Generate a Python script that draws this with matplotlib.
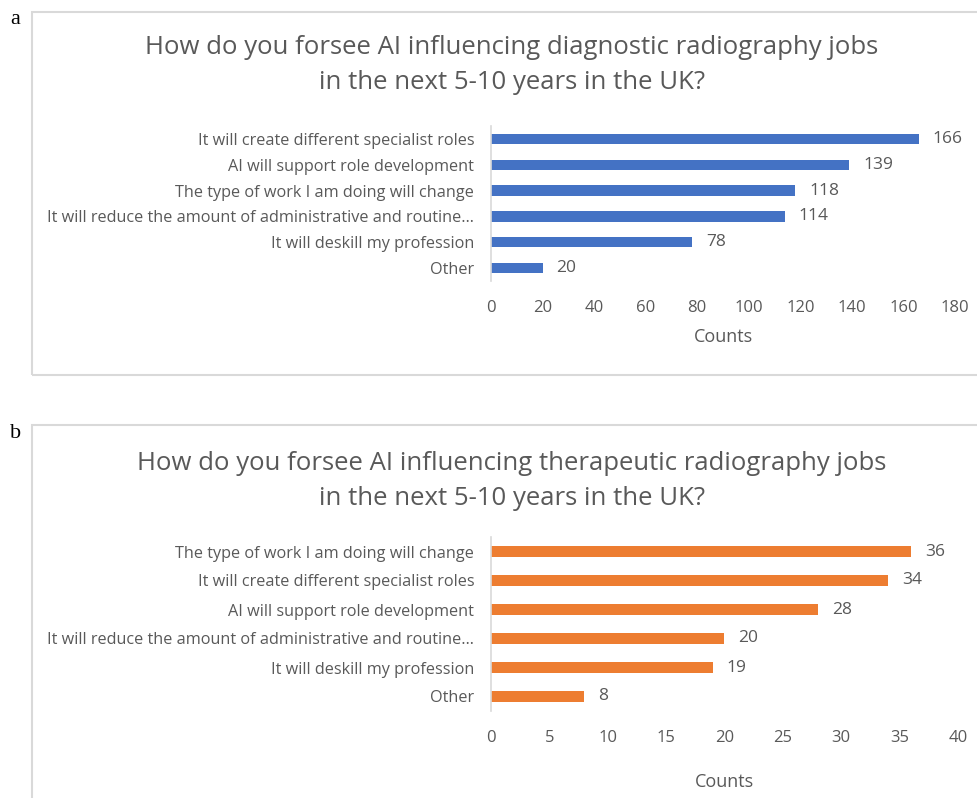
import numpy as np
import matplotlib.pyplot as plt
from matplotlib.patches import Rectangle

W, H = 978, 798

# panel a data (top to bottom)
labels_a = ["It will create different specialist roles",
            "AI will support role development",
            "The type of work I am doing will change",
            "It will reduce the amount of administrative and routine\u2026",
            "It will deskill my profession",
            "Other"]
counts_a = [166, 139, 118, 114, 78, 20]

# panel b data (top to bottom)
labels_b = ["The type of work I am doing will change",
            "It will create different specialist roles",
            "AI will support role development",
            "It will reduce the amount of administrative and routine\u2026",
            "It will deskill my profession",
            "Other"]
counts_b = [36, 34, 28, 20, 19, 8]

title_a = "How do you forsee AI influencing diagnostic radiography jobs\nin the next 5-10 years in the UK?"
title_b = "How do you forsee AI influencing therapeutic radiography jobs\nin the next 5-10 years in the UK?"

TXT = "#595959"
plt.rcParams['font.family'] = ['Open Sans', 'DejaVu Sans']

fig = plt.figure(figsize=(W / 100, H / 100), dpi=100)


def px(x0, y0, x1, y1):
    return [x0 / W, 1 - y1 / H, (x1 - x0) / W, (y1 - y0) / H]


# panel frames
for (x0, y0, x1, y1) in [(32, 12, 990, 375), (32, 425, 990, 810)]:
    fig.patches.append(Rectangle((x0 / W, 1 - y1 / H), (x1 - x0) / W, (y1 - y0) / H,
                                 transform=fig.transFigure, fill=False,
                                 edgecolor="#D9D9D9", linewidth=1.5))

fig.text(10 / W, 1 - 20 / H, "a", family="Liberation Serif", fontsize=16, va="center")
fig.text(10 / W, 1 - 433 / H, "b", family="Liberation Serif", fontsize=16, va="center")


def panel(rect, labels, counts, color, xmax, step, title, title_y, counts_y, barh):
    ax = fig.add_axes(px(*rect))
    y = np.arange(len(labels))
    ax.barh(y, counts, height=barh, color=color)
    ax.set_ylim(len(labels) - 0.5, -0.5)
    ax.set_xlim(0, xmax)
    ax.set_yticks(y)
    ax.set_yticklabels(labels, fontsize=11.7, color=TXT)
    ax.set_xticks(np.arange(0, xmax + 1, step))
    ax.tick_params(axis="x", length=0, pad=14, labelsize=12, labelcolor=TXT)
    ax.tick_params(axis="y", length=0, pad=12)
    for s in ["top", "right", "bottom"]:
        ax.spines[s].set_visible(False)
    ax.spines["left"].set_color("#D9D9D9")
    ax.spines["left"].set_linewidth(1.2)
    for yi, c in zip(y, counts):
        ax.annotate(str(c), (c, yi), xytext=(10, 0), textcoords="offset points",
                    va="center", ha="left", fontsize=12.5, color=TXT)
    fig.text(512 / W, 1 - title_y / H, title, ha="center", va="center",
             fontsize=18.5, color=TXT, linespacing=1.5)
    fig.text((rect[0] + rect[2]) / 2 / W, 1 - counts_y / H, "Counts", ha="center",
             va="center", fontsize=13, color=TXT)
    return ax


panel((491, 126, 955, 281), labels_a, counts_a, "#4472C4", 180, 20,
      title_a, 65, 337, 0.4)
panel((491, 537, 958, 711), labels_b, counts_b, "#ED7D31", 40, 5,
      title_b, 481, 782, 0.4)

fig.savefig("out.png", dpi=100)
